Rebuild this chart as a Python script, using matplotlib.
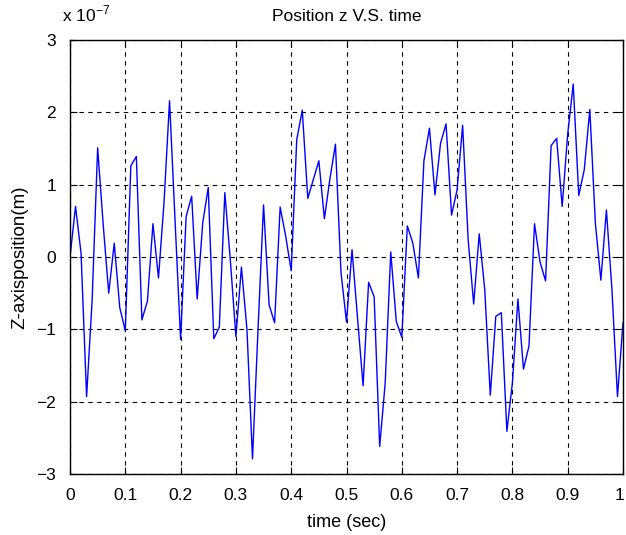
import numpy as np
import matplotlib
matplotlib.use("Agg")
import matplotlib.pyplot as plt
import matplotlib.transforms as mtransforms

plt.rcParams['font.family'] = ['Liberation Sans', 'DejaVu Sans']

# data (z position in units of 1e-7 m), sampled every 0.01 s
time = np.round(np.arange(0, 101) * 0.01, 2)
z_pos = [
    0.0, 0.70, 0.05, -1.93, -0.6, 1.51, 0.45, -0.50, 0.19, -0.70,
    -1.02, 1.26, 1.39, -0.87, -0.61, 0.46, -0.29, 0.75, 2.16, 0.5,
    -1.14, 0.56, 0.84, -0.58, 0.47, 0.96, -1.13, -0.97, 0.89, -0.05,
    -1.10, -0.14, -1.0, -2.79, -1.0, 0.72, -0.66, -0.91, 0.69, 0.29,
    -0.19, 1.62, 2.03, 0.81, 1.07, 1.33, 0.53, 1.08, 1.56, -0.21,
    -0.90, 0.10, -0.85, -1.78, -0.35, -0.55, -2.62, -1.74, 0.07, -0.89,
    -1.11, 0.43, 0.19, -0.29, 1.33, 1.78, 0.86, 1.57, 1.84, 0.58,
    0.93, 1.82, 0.24, -0.65, 0.32, -0.45, -1.91, -0.82, -0.77, -2.41,
    -1.74, -0.58, -1.55, -1.23, 0.46, -0.07, -0.33, 1.54, 1.64, 0.70,
    1.7, 2.39, 0.85, 1.21, 2.04, 0.47, -0.32, 0.65, -0.45, -1.93,
    -0.91,
]
x_ticks = [0, 0.1, 0.2, 0.3, 0.4, 0.5, 0.6, 0.7, 0.8, 0.9, 1]
x_ticklabels = ['0', '0.1', '0.2', '0.3', '0.4', '0.5', '0.6', '0.7', '0.8', '0.9', '1']
y_ticks = [-3, -2, -1, 0, 1, 2, 3]
y_ticklabels = ['\u22123', '\u22122', '\u22121', '0', '1', '2', '3']

fig = plt.figure(figsize=(6.26, 5.35), dpi=100)
ax = fig.add_axes([70/626, 61/535, 553/626, 434/535])
ax.plot(time, z_pos, color='#0000ff', linewidth=1.0)

ax.set_xlim(0, 1)
ax.set_ylim(-3, 3)
ax.set_xticks(x_ticks)
ax.set_xticklabels(x_ticklabels)
ax.set_yticks(y_ticks)
ax.set_yticklabels(y_ticklabels)
ax.tick_params(direction='in', top=True, right=True, length=5, width=0.8,
               labelsize=12.5, colors='black')
ax.tick_params(axis='x', pad=10)
ax.tick_params(axis='y', pad=10)
ax.grid(True, color='black', linestyle=(0, (4, 4)), linewidth=0.8)
for s in ax.spines.values():
    s.set_linewidth(1.0)

# keep the last x tick label inside the figure edge
last = ax.get_xticklabels()[-1]
last.set_transform(last.get_transform() +
                   mtransforms.ScaledTranslation(-3/100, 0, fig.dpi_scale_trans))

ax.set_title('Position z V.S. time', fontsize=12.5, pad=14)
ax.set_xlabel('time (sec)', fontsize=13, labelpad=8)
ax.set_ylabel('Z-axisposition(m)', fontsize=13.5, labelpad=6)
ax.text(-0.015, 1.035, 'x 10$^{\\mathregular{-7}}$', transform=ax.transAxes,
        fontsize=12.5, ha='left', va='bottom')

fig.savefig('out.png', dpi=100)
